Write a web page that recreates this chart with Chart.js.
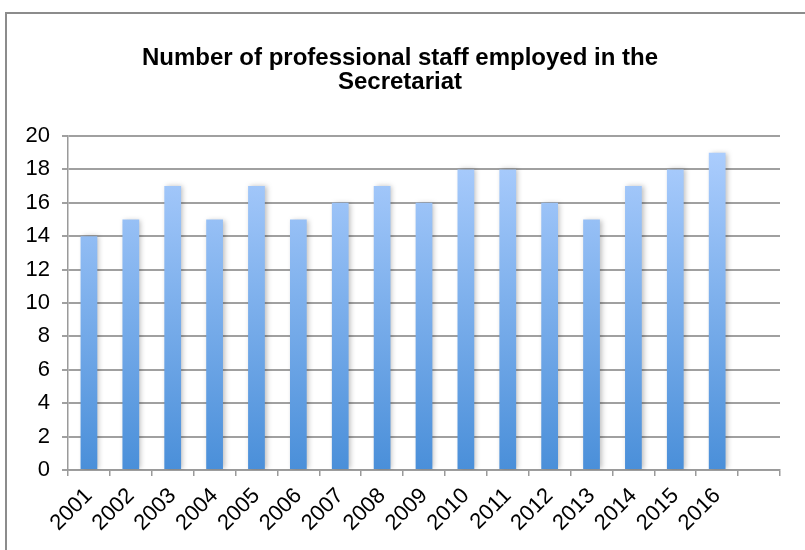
<!DOCTYPE html>
<html>
<head>
<meta charset="utf-8">
<script src="https://cdn.jsdelivr.net/npm/chart.js@4"></script>
<style>
  html, body { margin: 0; padding: 0; background: #fff; }
  #marco {
    position: absolute; left: 5px; top: 12px; width: 820px; height: 560px;
    border: 2px solid #8c8c8c; box-sizing: border-box;
  }
  #contenedor { position: absolute; left: 0; top: 0; width: 805px; height: 550px; }
</style>
</head>
<body>
<div id="marco"></div>
<div id="contenedor"><canvas id="myChart" width="805" height="550"></canvas></div>
<script>
// años (el último hueco queda vacío en el eje)
const anios = ["2001", "2002", "2003", "2004", "2005", "2006", "2007", "2008",
  "2009", "2010", "2011", "2012", "2013", "2014", "2015", "2016", ""]
// personal profesional por año
const personal = [14, 15, 17, 15, 17, 15, 16, 17, 16, 18, 18, 16, 15, 17, 18, 19, null]
const ticksY = [0, 2, 4, 6, 8, 10, 12, 14, 16, 18, 20]

const titulo = ["Number of professional staff employed in the", "Secretariat"]

//degradado vertical de las barras
function degradado(context) {
  const area = context.chart.chartArea
  if (!area) return "#7aaee8"
  const g = context.chart.ctx.createLinearGradient(0, area.bottom, 0, area.top)
  g.addColorStop(0, "#4a8fd9")
  g.addColorStop(1, "#b0d0ff")
  return g
}

// sombra suave detras de las barras
const sombra = {
  id: "sombra",
  beforeDatasetsDraw(chart) {
    const ctx = chart.ctx
    ctx.save()
    ctx.shadowColor = "rgba(0,0,0,0.25)"
    ctx.shadowBlur = 5
    ctx.shadowOffsetX = 2
    ctx.shadowOffsetY = 0
  },
  afterDatasetsDraw(chart) {
    chart.ctx.restore()
  }
}

const grafica = document.getElementById("myChart").getContext("2d")
Chart.defaults.font.family = "'Liberation Sans', Arial, sans-serif"
Chart.defaults.color = "#000"

new Chart(grafica, {
  type: "bar",
  data: {
    labels: anios,
    datasets: [{
      data: personal,
      backgroundColor: degradado,
      borderWidth: 0,
      categoryPercentage: 1,
      barPercentage: 0.4
    }]
  },
  plugins: [sombra],
  options: {
    responsive: false,
    animation: false,
    layout: { padding: { left: 20, right: 25, top: 46, bottom: 0 } },
    plugins: {
      legend: { display: false },
      tooltip: { enabled: false },
      title: {
        display: true,
        text: titulo,
        font: { size: 24, weight: "bold", lineHeight: 1.0 },
        padding: { top: 0, bottom: 42 }
      }
    },
    scales: {
      x: {
        afterFit(axis) { axis.height = 80 },
        grid: {
          offset: true,
          drawOnChartArea: false,
          drawTicks: true,
          tickLength: 6,
          color: "#9a9a9a",
          lineWidth: 1.5
        },
        border: { color: "#9a9a9a", width: 1.5 },
        ticks: {
          maxRotation: 45,
          minRotation: 45,
          font: { size: 22 },
          padding: 7,
          autoSkip: false
        }
      },
      y: {
        min: 0,
        max: 20,
        afterBuildTicks(axis) {
          axis.ticks = ticksY.map(v => ({ value: v }))
        },
        afterFit(axis) { axis.width = 48 },
        grid: {
          color: "#a0a0a0",
          lineWidth: 2,
          tickLength: 6
        },
        border: { color: "#9a9a9a", width: 1.5 },
        ticks: {
          font: { size: 22 },
          padding: 12
        }
      }
    }
  }
})
</script>
</body>
</html>
